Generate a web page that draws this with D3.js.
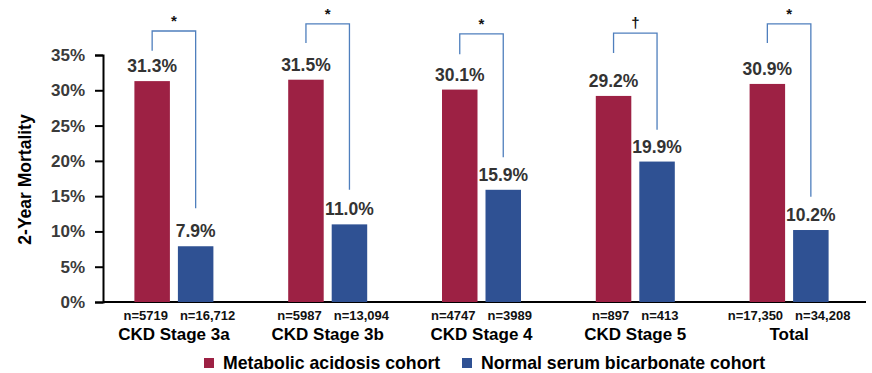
<!DOCTYPE html>
<html>
<head>
<meta charset="utf-8">
<script src="https://cdn.jsdelivr.net/npm/d3@7"></script>
<style>
  body { margin: 0; background: #fff; }
  svg text { font-family: "Liberation Sans", Arial, sans-serif; font-weight: bold; }
</style>
</head>
<body>
<div id="chart"></div>
<script>
// data
var stages = ["CKD Stage 3a", "CKD Stage 3b", "CKD Stage 4", "CKD Stage 5", "Total"];
var acidosis = [31.3, 31.5, 30.1, 29.2, 30.9];
var normal = [7.9, 11.0, 15.9, 19.9, 10.2];
var nAcidosis = ["n=5719", "n=5987", "n=4747", "n=897", "n=17,350"];
var nNormal = ["n=16,712", "n=13,094", "n=3989", "n=413", "n=34,208"];
var sigMarks = ["*", "*", "*", "\u2020", "*"];
// bracket levels in % units: top, left foot, right foot
var bracketTop = [38.4, 39.4, 38.0, 38.1, 39.4];
var bracketLeft = [35.6, 36.7, 35.1, 35.3, 36.7];
var bracketRight = [13.3, 15.9, 20.5, 24.4, 14.9];
var yTicks = [0, 5, 10, 15, 20, 25, 30, 35];
var legendLabels = ["Metabolic acidosis cohort", "Normal serum bicarbonate cohort"];

var W = 872, H = 373;
var colors = ["#9d2144", "#2f5193"];
var bracketColor = "#4f7fbd";

var svg = d3.select("#chart").append("svg")
    .attr("width", W)
    .attr("height", H);

var axisX = 103, axisRight = 866;

var y = d3.scaleLinear()
    .domain([0, 35])
    .range([302, 55]);

var x = d3.scaleBand()
    .domain(stages)
    .range([97, 866]);

var barW = 35.5, gap = 8;

// y axis
var yAxis = d3.axisLeft(y)
    .tickValues(yTicks)
    .tickSize(8)
    .tickFormat(function(d){ return d + "%"; });

var yg = svg.append("g")
    .attr("transform", "translate(" + axisX + ",0)")
    .call(yAxis);
yg.attr("font-family", null).attr("font-size", null);
yg.select(".domain").attr("stroke", "#000").attr("stroke-width", 2);
yg.selectAll(".tick line").attr("stroke", "#000").attr("stroke-width", 2);
yg.selectAll(".tick text")
    .attr("x", -18)
    .attr("fill", "#3a3a3a")
    .style("font-size", "17px");

// x baseline
svg.append("line")
    .attr("x1", axisX).attr("x2", axisRight)
    .attr("y1", y(0)).attr("y2", y(0))
    .attr("stroke", "#000")
    .attr("stroke-width", 2);

svg.append("text")
    .attr("transform", "translate(25," + ((y(0) + y(35)) / 2 + 1) + ") rotate(-90)")
    .attr("text-anchor", "middle")
    .attr("dominant-baseline", "central")
    .style("font-size", "17.5px")
    .attr("fill", "#000")
    .text("2-Year Mortality");

var groups = svg.selectAll(".grp")
    .data(stages)
    .enter().append("g")
    .attr("class", "grp");

function cx(i){ return x(stages[i]) + x.bandwidth() / 2; }
function leftCenter(i){ return cx(i) - gap / 2 - barW / 2; }
function rightCenter(i){ return cx(i) + gap / 2 + barW / 2; }

groups.each(function(d, i){
    var g = d3.select(this);
    var c = cx(i);

    g.append("rect")
        .attr("x", c - gap / 2 - barW)
        .attr("y", y(acidosis[i]))
        .attr("width", barW)
        .attr("height", y(0) - y(acidosis[i]))
        .attr("fill", colors[0]);

    g.append("rect")
        .attr("x", c + gap / 2)
        .attr("y", y(normal[i]))
        .attr("width", barW)
        .attr("height", y(0) - y(normal[i]))
        .attr("fill", colors[1]);

    // value labels
    g.append("text")
        .attr("x", leftCenter(i))
        .attr("y", y(acidosis[i]) - 9)
        .attr("text-anchor", "middle")
        .attr("fill", "#333")
        .style("font-size", "17.5px")
        .text(acidosis[i].toFixed(1) + "%");

    g.append("text")
        .attr("x", rightCenter(i))
        .attr("y", y(normal[i]) - 9)
        .attr("text-anchor", "middle")
        .attr("fill", "#333")
        .style("font-size", "17.5px")
        .text(normal[i].toFixed(1) + "%");

    // n labels
    g.append("text")
        .attr("x", c - 6)
        .attr("y", 319.5)
        .attr("text-anchor", "end")
        .attr("fill", "#111")
        .style("font-size", "13px")
        .text(nAcidosis[i]);

    g.append("text")
        .attr("x", c + 6)
        .attr("y", 319.5)
        .attr("text-anchor", "start")
        .attr("fill", "#111")
        .style("font-size", "13px")
        .text(nNormal[i]);

    // category label
    g.append("text")
        .attr("x", c)
        .attr("y", 340)
        .attr("text-anchor", "middle")
        .attr("fill", "#000")
        .style("font-size", "17px")
        .text(d);

    // significance bracket
    var lx = leftCenter(i), rx = rightCenter(i);
    g.append("path")
        .attr("d", "M" + lx + "," + y(bracketLeft[i]) +
                   "V" + y(bracketTop[i]) +
                   "H" + rx +
                   "V" + y(bracketRight[i]))
        .attr("fill", "none")
        .attr("stroke", bracketColor)
        .attr("stroke-width", 1.3);

    g.append("text")
        .attr("x", (lx + rx) / 2)
        .attr("y", y(bracketTop[i]) - 5)
        .attr("text-anchor", "middle")
        .attr("fill", "#111")
        .style("font-size", "15px")
        .text(sigMarks[i]);
});

// legend
var legendX = [204, 462];
var legend = svg.selectAll(".legend")
    .data(legendLabels)
    .enter().append("g")
    .attr("class", "legend")
    .attr("transform", function(d, i){ return "translate(" + legendX[i] + ",358)"; });

legend.append("rect")
    .attr("width", 10)
    .attr("height", 10)
    .attr("fill", function(d, i){ return colors[i]; });

legend.append("text")
    .attr("x", 19)
    .attr("y", 10.5)
    .attr("fill", "#000")
    .style("font-size", "17.7px")
    .text(function(d){ return d; });
</script>
</body>
</html>
